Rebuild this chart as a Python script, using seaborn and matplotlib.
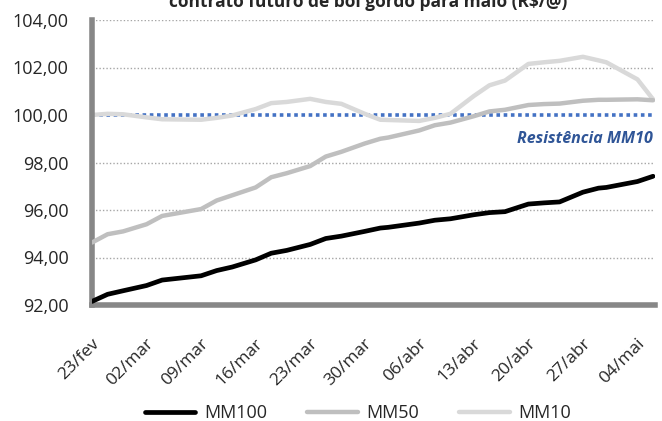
import pandas as pd
import matplotlib
matplotlib.use("Agg")
import matplotlib.pyplot as plt
import matplotlib.transforms as mtransforms
import seaborn as sns

# -----------------------------
# Data
# -----------------------------
dates = ["2015-02-23", "2015-02-25", "2015-02-27", "2015-03-02", "2015-03-04",
         "2015-03-09", "2015-03-11", "2015-03-13", "2015-03-16", "2015-03-18",
         "2015-03-20", "2015-03-23", "2015-03-25", "2015-03-27", "2015-03-30",
         "2015-04-01", "2015-04-02", "2015-04-06", "2015-04-08", "2015-04-10",
         "2015-04-13", "2015-04-15", "2015-04-17", "2015-04-20", "2015-04-22",
         "2015-04-24", "2015-04-27", "2015-04-29", "2015-04-30", "2015-05-04",
         "2015-05-06"]

mm100 = [92.15, 92.45, 92.60, 92.82, 93.05, 93.23, 93.45, 93.60, 93.90, 94.18,
         94.30, 94.55, 94.80, 94.90, 95.10, 95.24, 95.27, 95.45, 95.57, 95.63,
         95.80, 95.89, 95.93, 96.25, 96.30, 96.34, 96.75, 96.92, 96.95, 97.20,
         97.42]

mm50 = [94.63, 94.98, 95.10, 95.40, 95.75, 96.04, 96.40, 96.62, 96.95, 97.38,
        97.55, 97.85, 98.25, 98.45, 98.80, 99.00, 99.05, 99.35, 99.57, 99.68,
        99.95, 100.15, 100.22, 100.42, 100.46, 100.48, 100.60, 100.64, 100.64, 100.66,
        100.62]

mm10 = [100.00, 100.05, 100.03, 99.90, 99.82, 99.80, 99.88, 99.98, 100.25, 100.50,
        100.55, 100.68, 100.55, 100.47, 100.05, 99.80, 99.79, 99.75, 99.88, 100.05,
        100.80, 101.25, 101.45, 102.15, 102.22, 102.28, 102.45, 102.30, 102.22, 101.50,
        100.66]

resistencia = 100.0

tick_dates = ["2015-02-23", "2015-03-02", "2015-03-09", "2015-03-16", "2015-03-23",
              "2015-03-30", "2015-04-06", "2015-04-13", "2015-04-20", "2015-04-27",
              "2015-05-04"]
tick_labels = ["23/fev", "02/mar", "09/mar", "16/mar", "23/mar", "30/mar",
               "06/abr", "13/abr", "20/abr", "27/abr", "04/mai"]

y_ticks = [92, 94, 96, 98, 100, 102, 104]

# -----------------------------
# Style
# -----------------------------
sns.set_style("white")
plt.rcParams["font.family"] = ["Open Sans", "DejaVu Sans"]

df = pd.DataFrame({"data": pd.to_datetime(dates),
                   "MM100": mm100, "MM50": mm50, "MM10": mm10})

fig = plt.figure(figsize=(6.62, 4.21), dpi=100)
ax = fig.add_axes([92 / 662, 1 - 305 / 421, 563 / 662, 285 / 421])

# gridlines (dotted)
for v in y_ticks:
    if v != resistencia:
        ax.axhline(v, color="#a6a6a6", lw=1.0, ls=(0, (1, 1.5)), zorder=0)

# resistance line
ax.axhline(resistencia, color="#4472C4", lw=2.6, ls=(0, (1, 1)), zorder=1)

sns.lineplot(data=df, x="data", y="MM10", ax=ax, color="#d9d9d9", lw=3.2,
             label="MM10", zorder=2)
sns.lineplot(data=df, x="data", y="MM50", ax=ax, color="#bfbfbf", lw=3.2,
             label="MM50", zorder=3)
sns.lineplot(data=df, x="data", y="MM100", ax=ax, color="black", lw=3.4,
             label="MM100", zorder=4)

ax.text(0.997, 99.0, "Resistência MM10", transform=ax.get_yaxis_transform(),
        ha="right", va="center", fontsize=11.5, fontweight="bold",
        fontstyle="italic", color="#2F5597")

# axes
ax.set_ylim(92, 104)
ax.set_xlim(pd.Timestamp(dates[0]), pd.Timestamp(dates[-1]) + pd.Timedelta(hours=6))
ax.set_yticks(y_ticks)
ax.set_yticklabels([f"{v:.2f}".replace(".", ",") for v in y_ticks], fontsize=13)
ax.set_xticks(pd.to_datetime(tick_dates))
ax.set_xticklabels(tick_labels, rotation=45, ha="right", va="center",
                   rotation_mode="anchor", fontsize=12.5)
ax.tick_params(axis="y", length=0, pad=17)
ax.tick_params(axis="x", length=0, pad=26)
offset = mtransforms.ScaledTranslation(5 / 100, 0, fig.dpi_scale_trans)
for lab in ax.get_xticklabels():
    lab.set_transform(lab.get_transform() + offset)
ax.set_xlabel("")
ax.set_ylabel("")

for side in ["top", "right"]:
    ax.spines[side].set_visible(False)
for side in ["left", "bottom"]:
    ax.spines[side].set_color("#878787")
    ax.spines[side].set_linewidth(4)

# legend at the bottom
ax.get_legend().remove()
handles, labels = ax.get_legend_handles_labels()
order = [labels.index(n) for n in ["MM100", "MM50", "MM10"]]
fig.legend([handles[i] for i in order], [labels[i] for i in order],
           loc="center", bbox_to_anchor=(358 / 662, 1 - 413 / 421), ncol=3,
           frameon=False, fontsize=13, handlelength=2.8, columnspacing=2.2,
           handletextpad=0.5)

# title (cut at the top like the original)
fig.text(368 / 662, 1 - 7 / 421, "contrato futuro de boi gordo para maio (R$/@)",
         ha="center", va="baseline", fontsize=12.5, fontweight="bold")

fig.savefig("out.png", dpi=100)
